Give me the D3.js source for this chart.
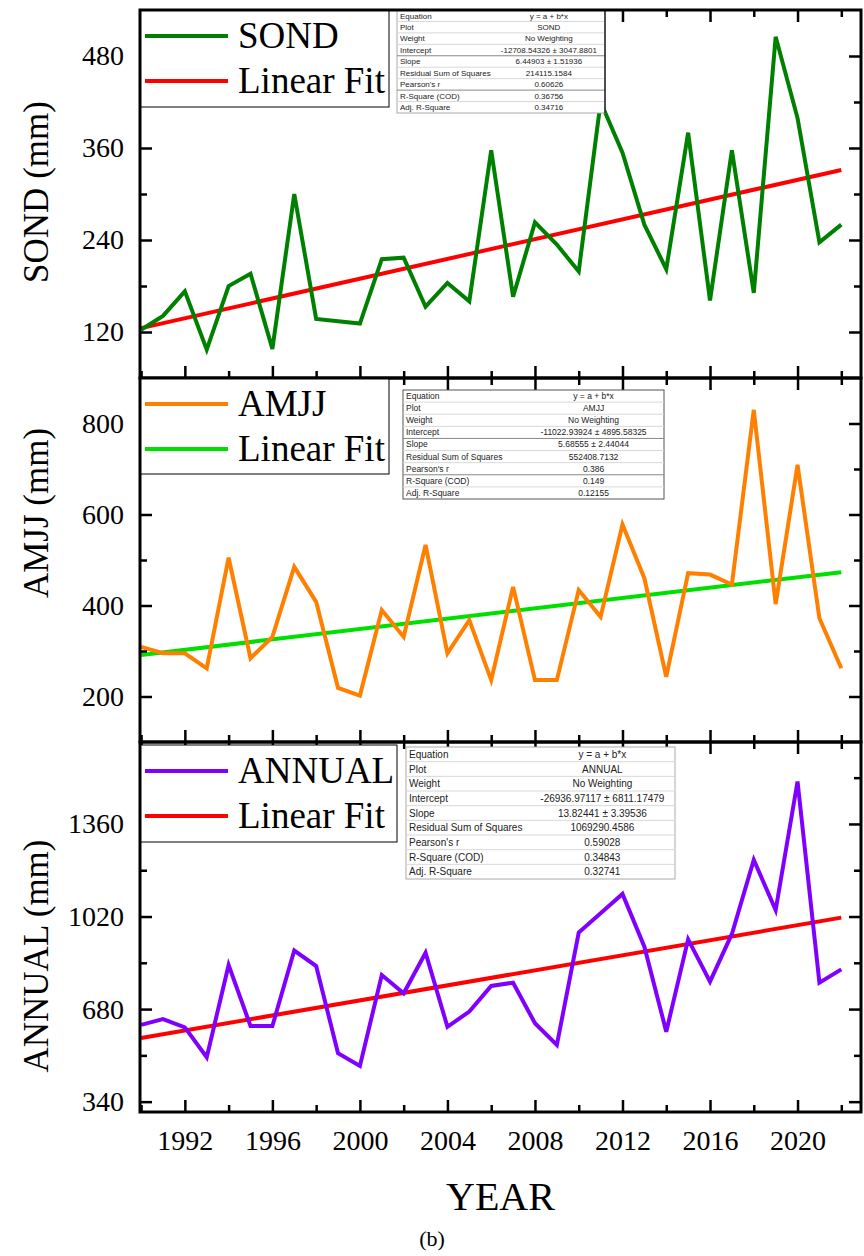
<!DOCTYPE html>
<html>
<head>
<meta charset="utf-8">
<script src="https://cdn.jsdelivr.net/npm/d3@7/dist/d3.min.js"></script>
<style>
  body { margin: 0; background: #fff; }
  svg { display: block; }
</style>
</head>
<body>
<svg width="864" height="1256"></svg>
<script>
// ---- data ----
const years = [1990, 1991, 1992, 1993, 1994, 1995, 1996, 1997, 1998, 1999, 2000,
    2001, 2002, 2003, 2004, 2005, 2006, 2007, 2008, 2009, 2010, 2011,
    2012, 2013, 2014, 2015, 2016, 2017, 2018, 2019, 2020, 2021, 2022];

const sondValues = [123, 141, 173, 97, 180, 196, 98, 300, 137, 134, 131,
    215, 217, 153, 184, 160, 357, 166, 263, 234, 199, 420,
    354, 260, 202, 380, 161, 357, 171, 505, 399, 237, 260];

const amjjValues = [309, 295, 295, 262, 505, 284, 331, 485, 408, 219, 202,
    390, 331, 533, 295, 368, 236, 441, 236, 236, 434, 375,
    578, 460, 243, 471, 468, 446, 830, 403, 709, 372, 262];

const annualValues = [622, 643, 613, 503, 842, 618, 618, 895, 838, 518, 471,
    805, 738, 887, 615, 671, 765, 777, 628, 548, 961, 1032,
    1103, 909, 597, 936, 781, 956, 1228, 1044, 1516, 777, 826];

const yearTicks = [1992, 1996, 2000, 2004, 2008, 2012, 2016, 2020];
const sondTicks = [120, 240, 360, 480];
const amjjTicks = [200, 400, 600, 800];
const annualTicks = [340, 680, 1020, 1360];

// intercept, slope of the fitted lines
const sondFit = [-12708.54326, 6.44903];
const amjjFit = [-11022.93924, 5.68555];
const annualFit = [-26936.97117, 13.82441];

const statLabels = ["Equation", "Plot", "Weight", "Intercept", "Slope",
    "Residual Sum of Squares", "Pearson's r", "R-Square (COD)", "Adj. R-Square"];
const sondStats = ["y = a + b*x", "SOND", "No Weighting", "-12708.54326 \u00b1 3047.8801",
    "6.44903 \u00b1 1.51936", "214115.1584", "0.60626", "0.36756", "0.34716"];
const amjjStats = ["y = a + b*x", "AMJJ", "No Weighting", "-11022.93924 \u00b1 4895.58325",
    "5.68555 \u00b1 2.44044", "552408.7132", "0.386", "0.149", "0.12155"];
const annualStats = ["y = a + b*x", "ANNUAL", "No Weighting", "-26936.97117 \u00b1 6811.17479",
    "13.82441 \u00b1 3.39536", "1069290.4586", "0.59028", "0.34843", "0.32741"];

// ---- layout ----
const svg = d3.select("svg");
const serif = "'Liberation Serif', 'Times New Roman', serif";
const sans = "'Liberation Sans', Arial, sans-serif";
const left = 140, right = 861;

const x = d3.scaleLinear()
    .domain([1989.95, 2022.9])
    .range([left, right]);

const panels = [
    {
        name: "SOND", title: "SOND (mm)", values: sondValues, fit: sondFit, ticks: sondTicks,
        top: 10, bottom: 378, domain: [60, 540], color: "#008000", fitColor: "#ff0000",
        titleY: 192, legend: { w: 249, h: 97 }, table: { x: 397, y: 10, w: 208, h: 103, fs: 8 }
    },
    {
        name: "AMJJ", title: "AMJJ (mm)", values: amjjValues, fit: amjjFit, ticks: amjjTicks,
        top: 378, bottom: 742, domain: [100, 900], color: "#ff8000", fitColor: "#00e000",
        titleY: 513, legend: { w: 249, h: 96 }, table: { x: 403, y: 390, w: 261, h: 109, fs: 8.5 }
    },
    {
        name: "ANNUAL", title: "ANNUAL (mm)", values: annualValues, fit: annualFit, ticks: annualTicks,
        top: 742, bottom: 1112, domain: [302, 1661], color: "#8000ff", fitColor: "#ff0000",
        titleY: 956, legend: { w: 257, h: 97 }, table: { x: 406, y: 747, w: 269, h: 132, fs: 10 }
    }
];

panels.forEach((p, i) => {
    const g = svg.append("g");
    const y = d3.scaleLinear().domain(p.domain).range([p.bottom, p.top]);
    const step = p.ticks[1] - p.ticks[0];
    const minor = d3.range(p.ticks[0] - step / 2, p.domain[1], step)
        .filter(v => v > p.domain[0] && v < p.domain[1]);
    const yearMinor = [1990, 1994, 1998, 2002, 2006, 2010, 2014, 2018, 2022];

    const clipId = "clip" + i;
    g.append("clipPath").attr("id", clipId)
        .append("rect")
        .attr("x", left).attr("y", p.top)
        .attr("width", right - left).attr("height", p.bottom - p.top);

    const plot = g.append("g").attr("clip-path", `url(#${clipId})`);

    // fitted line
    const fitPts = [years[0], years[years.length - 1]]
        .map(yr => [yr, p.fit[0] + p.fit[1] * yr]);
    plot.append("path")
        .datum(fitPts)
        .attr("fill", "none")
        .attr("stroke", p.fitColor)
        .attr("stroke-width", 4)
        .attr("d", d3.line().x(d => x(d[0])).y(d => y(d[1])));

    // data line
    plot.append("path")
        .datum(years.map((yr, k) => [yr, p.values[k]]))
        .attr("fill", "none")
        .attr("stroke", p.color)
        .attr("stroke-width", 4)
        .attr("stroke-linejoin", "miter")
        .attr("d", d3.line().x(d => x(d[0])).y(d => y(d[1])));

    // axes (ticks pointing inward)
    const tickStyle = sel => {
        sel.select(".domain").remove();
        sel.selectAll("line").attr("stroke", "#000").attr("stroke-width", 2.5);
    };
    const yl = g.append("g").attr("transform", `translate(${left},0)`)
        .call(d3.axisLeft(y).tickValues(p.ticks).tickSize(-12).tickPadding(16)
            .tickFormat(d3.format("d")));
    tickStyle(yl);
    yl.selectAll("text")
        .attr("font-family", serif)
        .attr("font-size", 28)
        .attr("fill", "#000");
    g.append("g").attr("transform", `translate(${left},0)`)
        .call(d3.axisLeft(y).tickValues(minor).tickSize(-7).tickFormat(""))
        .call(tickStyle);
    g.append("g").attr("transform", `translate(${right},0)`)
        .call(d3.axisRight(y).tickValues(p.ticks).tickSize(-12).tickFormat(""))
        .call(tickStyle);
    g.append("g").attr("transform", `translate(${right},0)`)
        .call(d3.axisRight(y).tickValues(minor).tickSize(-7).tickFormat(""))
        .call(tickStyle);

    g.append("g").attr("transform", `translate(0,${p.top})`)
        .call(d3.axisTop(x).tickValues(yearTicks).tickSize(-12).tickFormat(""))
        .call(tickStyle);
    g.append("g").attr("transform", `translate(0,${p.top})`)
        .call(d3.axisTop(x).tickValues(yearMinor).tickSize(-7).tickFormat(""))
        .call(tickStyle);
    const xb = g.append("g").attr("transform", `translate(0,${p.bottom})`)
        .call(d3.axisBottom(x).tickValues(yearTicks).tickSize(-12).tickPadding(18)
            .tickFormat(i === 2 ? d3.format("d") : ""));
    tickStyle(xb);
    xb.selectAll("text")
        .attr("font-family", serif)
        .attr("font-size", 28)
        .attr("fill", "#000");
    g.append("g").attr("transform", `translate(0,${p.bottom})`)
        .call(d3.axisBottom(x).tickValues(yearMinor).tickSize(-7).tickFormat(""))
        .call(tickStyle);

    // legend (covers the ticks underneath)
    const lg = g.append("g").attr("transform", `translate(${left}, ${i === 2 ? p.top + 3 : p.top})`);
    lg.append("rect")
        .attr("width", p.legend.w).attr("height", p.legend.h)
        .attr("fill", "#fff").attr("stroke", "#000").attr("stroke-width", 1);
    [[p.name, p.color], ["Linear Fit", p.fitColor]].forEach((item, k) => {
        const cy = 26 + k * 45;
        lg.append("line")
            .attr("x1", 5).attr("x2", 88)
            .attr("y1", cy).attr("y2", cy)
            .attr("stroke", item[1]).attr("stroke-width", 4);
        lg.append("text")
            .attr("x", 98).attr("y", cy + 12)
            .attr("font-family", serif)
            .attr("font-size", 37)
            .text(item[0]);
    });

    // stats table
    const stats = [sondStats, amjjStats, annualStats][i];
    const t = p.table;
    const rowH = t.h / statLabels.length;
    const tg = g.append("g").attr("transform", `translate(${t.x}, ${t.y})`);
    tg.append("rect")
        .attr("width", t.w).attr("height", t.h)
        .attr("fill", "#fff")
        .attr("stroke", i === 1 ? "#555" : "#aaa")
        .attr("stroke-width", 1);
    statLabels.forEach((lab, k) => {
        if (k > 0) {
            const strong = (k === 4 || k === 7) && i !== 2;
            tg.append("line")
                .attr("x1", 0).attr("x2", t.w)
                .attr("y1", k * rowH).attr("y2", k * rowH)
                .attr("stroke", strong ? "#888" : "#d8d8d8")
                .attr("stroke-width", 1);
        }
        tg.append("text")
            .attr("x", 3).attr("y", k * rowH + rowH / 2)
            .attr("dy", "0.35em")
            .attr("font-family", sans)
            .attr("font-size", t.fs)
            .attr("fill", "#222")
            .text(lab);
        tg.append("text")
            .attr("x", t.w * 0.73).attr("y", k * rowH + rowH / 2)
            .attr("dy", "0.35em")
            .attr("text-anchor", "middle")
            .attr("font-family", sans)
            .attr("font-size", t.fs)
            .attr("fill", "#222")
            .text(stats[k]);
    });
    if (i === 0) {
        tg.append("line")
            .attr("x1", t.w).attr("x2", t.w).attr("y1", 0).attr("y2", t.h)
            .attr("stroke", "#222").attr("stroke-width", 1.5);
    }

    // frame
    g.append("rect")
        .attr("x", left).attr("y", p.top)
        .attr("width", right - left).attr("height", p.bottom - p.top)
        .attr("fill", "none").attr("stroke", "#000").attr("stroke-width", 3);

    // y title
    g.append("text")
        .attr("transform", `translate(36, ${p.titleY}) rotate(-90)`)
        .attr("text-anchor", "middle")
        .attr("dy", "0.35em")
        .attr("font-family", serif)
        .attr("font-size", 35)
        .text(p.title);
});

svg.append("text")
    .attr("x", (left + right) / 2)
    .attr("y", 1210)
    .attr("text-anchor", "middle")
    .attr("font-family", serif)
    .attr("font-size", 40)
    .text("YEAR");

svg.append("text")
    .attr("x", 432)
    .attr("y", 1246)
    .attr("text-anchor", "middle")
    .attr("font-family", serif)
    .attr("font-size", 22)
    .text("(b)");
</script>
</body>
</html>
